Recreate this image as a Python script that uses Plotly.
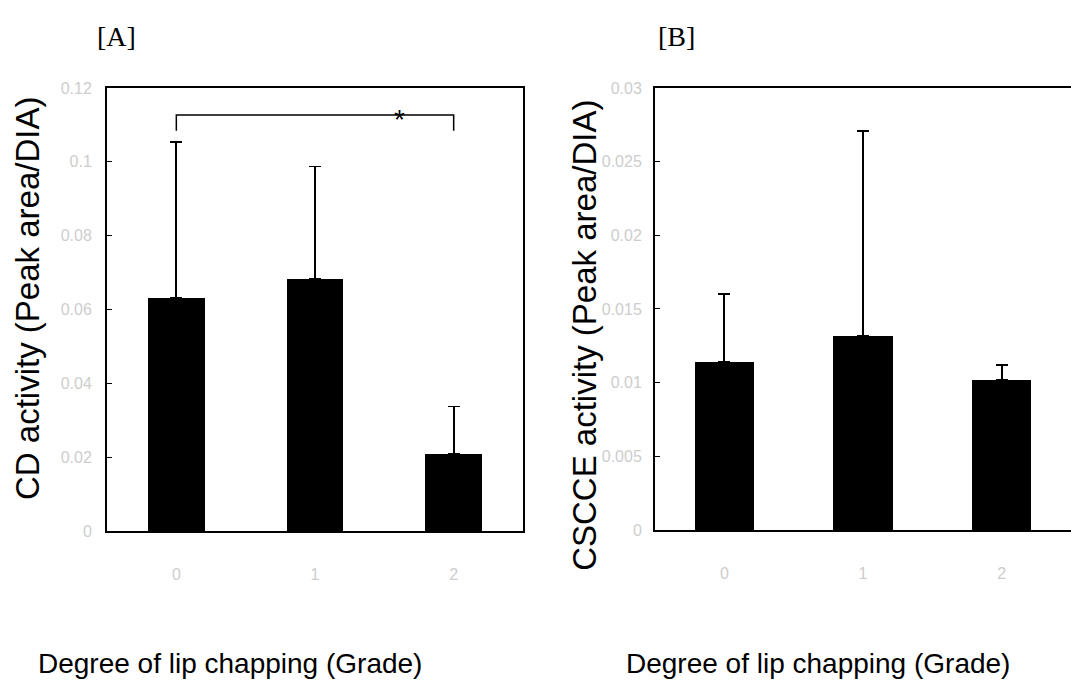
import plotly.graph_objects as go

grades = ["0", "1", "2"]
cd_mean = [0.0631, 0.0682, 0.0208]
cd_sd = [0.0423, 0.0305, 0.0129]
cscce_mean = [0.0114, 0.0132, 0.0102]
cscce_sd = [0.0046, 0.0139, 0.0010]
cd_ticks = [0, 0.02, 0.04, 0.06, 0.08, 0.1, 0.12]
cscce_ticks = [0, 0.005, 0.01, 0.015, 0.02, 0.025, 0.03]


def py(p):
    # pixel row -> paper y (calibrated)
    return 1 - (p - 6.7) / 674


def px(p):
    return p / 1071


fig = go.Figure()
fig.add_trace(go.Bar(x=grades, y=cd_mean, width=0.41, marker=dict(color="black", line=dict(width=0)),
                     error_y=dict(type="data", array=cd_sd, arrayminus=[0, 0, 0], symmetric=False,
                                  color="black", thickness=1.8, width=6),
                     xaxis="x", yaxis="y", showlegend=False))
fig.add_trace(go.Bar(x=grades, y=cscce_mean, width=0.43, marker=dict(color="black", line=dict(width=0)),
                     error_y=dict(type="data", array=cscce_sd, arrayminus=[0, 0, 0], symmetric=False,
                                  color="black", thickness=1.8, width=6),
                     xaxis="x2", yaxis="y2", showlegend=False))

tickfont = dict(family="Arial, Liberation Sans, sans-serif", size=16, color="#cdcdcd")
sans = "Arial, Liberation Sans, sans-serif"
serif = "Liberation Serif, Times New Roman, serif"

ax_common = dict(showline=True, linecolor="black", linewidth=2, showgrid=False, zeroline=False)

fig.update_layout(
    width=1071, height=688, margin=dict(l=0, r=0, t=0, b=0),
    plot_bgcolor="white", paper_bgcolor="white", bargap=0,
    xaxis=dict(domain=[px(107), px(523)], anchor="y", mirror=True, ticks="", tickfont=tickfont,
               ticklabelstandoff=28, **ax_common),
    yaxis=dict(domain=[py(532), py(87)], anchor="x", range=[0, 0.12], tickvals=cd_ticks,
               ticktext=[str(t) for t in cd_ticks], ticks="inside", ticklen=5, tickcolor="black",
               mirror=True, tickfont=tickfont, ticklabelstandoff=10, **ax_common),
    xaxis2=dict(domain=[px(655), 1.0], anchor="y2", mirror=True, ticks="", tickfont=tickfont,
                ticklabelstandoff=28, **ax_common),
    yaxis2=dict(domain=[py(531), py(87)], anchor="x2", range=[0, 0.03], tickvals=cscce_ticks,
                ticktext=[str(t) for t in cscce_ticks], ticks="inside", ticklen=5, tickcolor="black",
                mirror=False, tickfont=tickfont, ticklabelstandoff=8, **ax_common),
)

# significance bracket on panel A
fig.add_shape(type="path", xref="x", yref="y",
              path="M 0,0.1084 L 0,0.1127 L 2,0.1127 L 2,0.1084",
              line=dict(color="black", width=1.5))
fig.add_annotation(x=1.61, y=0.1127, xref="x", yref="y", text="*", showarrow=False,
                   xanchor="center", yanchor="middle", yshift=-5,
                   font=dict(family=sans, size=28, color="black"))

# y-axis titles
fig.add_annotation(x=px(28), y=py(299), xref="paper", yref="paper", text="CD activity (Peak area/DIA)",
                   textangle=-90, showarrow=False, xanchor="center", yanchor="middle",
                   font=dict(family=sans, size=33, color="black"))
fig.add_annotation(x=px(585), y=py(335), xref="paper", yref="paper", text="CSCCE activity (Peak area/DIA)",
                   textangle=-90, showarrow=False, xanchor="center", yanchor="middle",
                   font=dict(family=sans, size=33, color="black"))

# panel labels
fig.add_annotation(x=px(116), y=py(35), xref="paper", yref="paper", text="[A]", showarrow=False,
                   xanchor="center", yanchor="middle", font=dict(family=serif, size=28, color="black"))
fig.add_annotation(x=px(676), y=py(35), xref="paper", yref="paper", text="[B]", showarrow=False,
                   xanchor="center", yanchor="middle", font=dict(family=serif, size=28, color="black"))

# x-axis titles
fig.add_annotation(x=px(230), y=py(665), xref="paper", yref="paper",
                   text="Degree of lip chapping (Grade)", showarrow=False,
                   xanchor="center", yanchor="middle", font=dict(family=sans, size=28, color="black"))
fig.add_annotation(x=px(818), y=py(665), xref="paper", yref="paper",
                   text="Degree of lip chapping (Grade)", showarrow=False,
                   xanchor="center", yanchor="middle", font=dict(family=sans, size=28, color="black"))

fig.write_html("out.html")
